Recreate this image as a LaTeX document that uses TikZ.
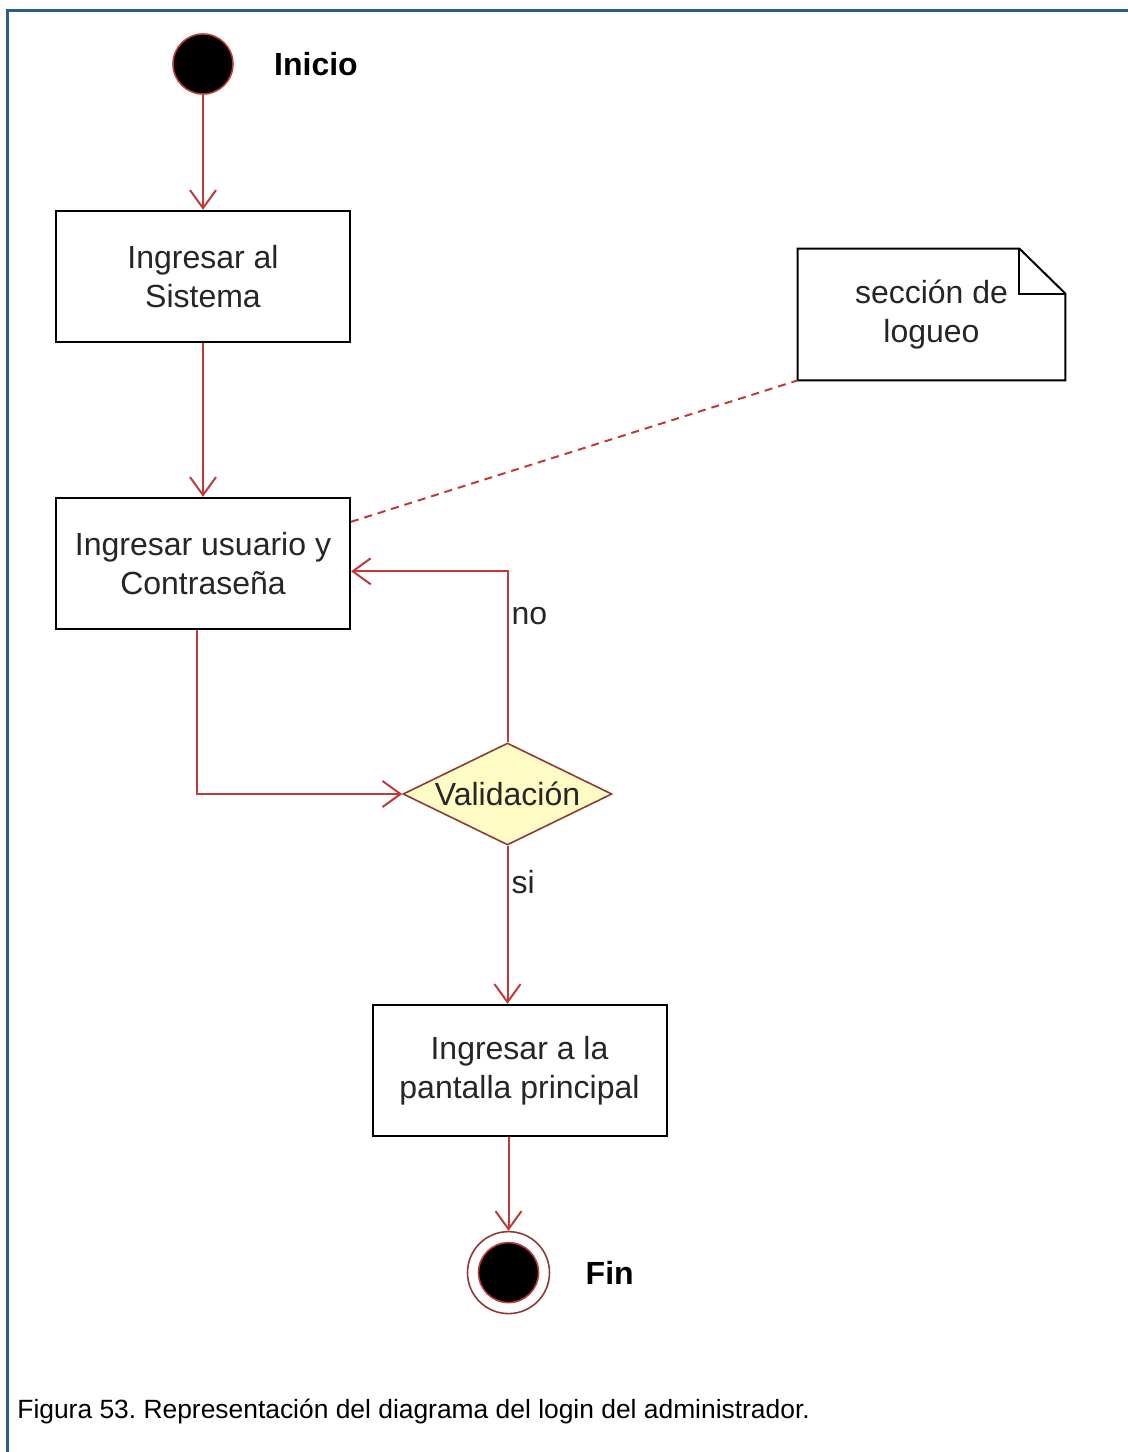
\documentclass[tikz,border=0pt]{standalone}
\usepackage{fontspec}
\setmainfont{Liberation Sans}
\usetikzlibrary{arrows.meta,positioning,shapes.geometric,calc}
\frenchspacing
\definecolor{lgInk}{HTML}{262626}
\definecolor{lgRed}{HTML}{BF3B3B}
\definecolor{lgEdge}{HTML}{8E3B36}
\definecolor{lgCream}{HTML}{FFFBC4}
\definecolor{lgFrame}{HTML}{2E5C8A}
\tikzset{
  actbox/.style    ={draw=black,line width=1pt,fill=white,align=center,
                     minimum width=147pt,minimum height=65.5pt,inner sep=2pt,
                     font=\fontsize{16}{19.5}\selectfont,text=lgInk},
  startdot/.style  ={circle,fill=black,draw=lgRed,line width=0.8pt,
                     minimum size=30pt,inner sep=0pt},
  enddot/.style    ={circle,draw=lgEdge,line width=0.8pt,minimum size=41pt,inner sep=0pt,
                     path picture={\filldraw[fill=black,draw=lgRed,line width=0.8pt]
                       (path picture bounding box.center) circle (15pt);}},
  decision/.style  ={diamond,aspect=2,draw=lgEdge,line width=0.8pt,fill=lgCream,
                     minimum width=104.5pt,minimum height=51pt,inner sep=0pt,
                     font=\fontsize{16}{19.5}\selectfont,text=lgInk},
  notebox/.style   ={minimum width=133.5pt,minimum height=65.5pt,align=center,
                     font=\fontsize{16}{19.5}\selectfont,text=lgInk},
  noteline/.style  ={black,line width=1pt},
  flow/.style      ={-{Straight Barb[length=9pt,width=13pt]},lgRed,line width=1pt},
  anchorline/.style={lgRed,line width=1pt,dash pattern=on 4pt off 3pt},
  lbl/.style       ={font=\fontsize{16}{19}\selectfont\bfseries,text=black,inner sep=0pt},
  glbl/.style      ={font=\fontsize{16}{19}\selectfont,text=lgInk,inner sep=1.5pt},
  caption/.style   ={font=\fontsize{13.2}{16}\selectfont,text=black,inner sep=0pt},
}

\begin{document}
\begin{tikzpicture}[x=0.5pt,y=-0.5pt]
\useasboundingbox (0,0) rectangle (1128,1452);
\draw[lgFrame,line width=1.5pt] (7,1452) -- (7,10) -- (1128,10);

%% activity chain
\node[startdot] (inicio) at (203,64) {};
\node[lbl,right=20pt of inicio] (inicioLbl) {Inicio};
\node[actbox,below=57.5pt of inicio] (ingreso) {Ingresar al\\Sistema};
\node[actbox,below=77pt of ingreso] (credenciales) {Ingresar usuario y\\Contraseña};
\node[decision] (valida) at (507.5,794) {Validación};
\node[actbox,below=79pt of valida,xshift=6pt] (principal) {Ingresar a la\\pantalla principal};
\node[enddot,below=47pt of principal,xshift=-5.5pt] (fin) {};
\node[lbl,right=17.5pt of fin] (finLbl) {Fin};

%% note with folded corner
\node[notebox] (logueo) at (931.5,314.5) {sección de\\logueo};
\draw[noteline] (logueo.south west) -- (logueo.north west) -- ([xshift=-23pt]logueo.north east)
  -- ([yshift=-22.5pt]logueo.north east) -- (logueo.south east) -- cycle;
\draw[noteline] ([xshift=-23pt]logueo.north east) |- ([yshift=-22.5pt]logueo.north east);

\draw[flow] (inicio) -- (ingreso);
\draw[flow] (ingreso) -- (credenciales);
\draw[flow] ([xshift=-3pt]credenciales.south) |- (valida.west);
\draw[flow] (valida.north) |- node[glbl,pos=0.37,right]{no} ([yshift=-4pt]credenciales.east);
\draw[flow] (valida.south) -- node[glbl,pos=0.23,right]{si} (valida.south |- principal.north);
\draw[flow] (principal.south -| fin) -- (fin);
\draw[anchorline] ([yshift=-12.5pt]credenciales.north east) -- (logueo.south west);

\node[caption,anchor=base west] (pie) at (17,1418)
  {Figura 53. Representación del diagrama del login del administrador.};
\end{tikzpicture}
\end{document}
